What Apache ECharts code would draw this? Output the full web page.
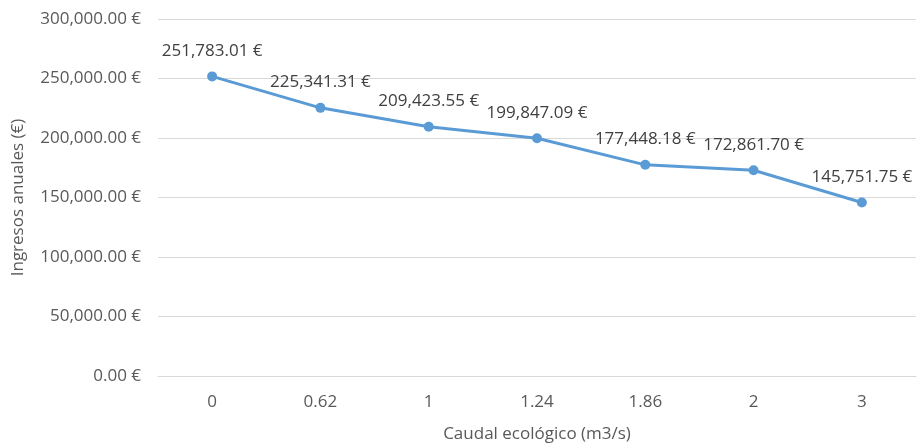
<!DOCTYPE html>
<html>
<head>
<meta charset="utf-8">
<script src="https://cdn.jsdelivr.net/npm/echarts@6/dist/echarts.min.js"></script>
<style>
html,body{margin:0;padding:0;background:#fff;}
#chart{width:917px;height:448px;}
</style>
</head>
<body>
<div id="chart"></div>
<script>
const categories = ['0', '0.62', '1', '1.24', '1.86', '2', '3'];
const ingresos = [251783.01, 225341.31, 209423.55, 199847.09, 177448.18, 172861.70, 145751.75];
const xAxisName = 'Caudal ecológico (m3/s)';
const yAxisName = 'Ingresos anuales (€)';

function fmtEuro(v) {
  const parts = Number(v).toFixed(2).split('.');
  parts[0] = parts[0].replace(/\B(?=(\d{3})+(?!\d))/g, ',');
  return parts.join('.') + ' €';
}

const FONT = 'Open Sans';
const FS = 17;
const chart = echarts.init(document.getElementById('chart'), null, {renderer: 'canvas'});
chart.setOption({
  backgroundColor: '#ffffff',
  animation: false,
  grid: {left: 158, right: 1, top: 19, bottom: 67, containLabel: false},
  xAxis: {
    type: 'category',
    data: categories,
    boundaryGap: true,
    name: xAxisName,
    nameLocation: 'middle',
    nameGap: 50,
    nameTextStyle: {color: '#595959', fontFamily: FONT, fontSize: FS},
    axisLine: {show: true, lineStyle: {color: '#D9D9D9', width: 1}},
    axisTick: {show: false},
    axisLabel: {color: '#595959', fontFamily: FONT, fontSize: FS, margin: 18},
    splitLine: {show: false}
  },
  yAxis: {
    type: 'value',
    min: 0,
    max: 300000,
    interval: 50000,
    name: yAxisName,
    nameLocation: 'middle',
    nameGap: 131,
    nameTextStyle: {color: '#595959', fontFamily: FONT, fontSize: FS},
    axisLine: {show: false},
    axisTick: {show: false},
    axisLabel: {color: '#595959', fontFamily: FONT, fontSize: FS, margin: 17, formatter: fmtEuro},
    splitLine: {show: true, lineStyle: {color: '#D9D9D9', width: 1}}
  },
  series: [{
    type: 'line',
    data: ingresos,
    symbol: 'circle',
    symbolSize: 10,
    lineStyle: {color: '#5B9BD5', width: 3},
    itemStyle: {color: '#5B9BD5'},
    label: {
      show: true,
      position: 'top',
      distance: 12,
      color: '#404040',
      fontFamily: FONT,
      fontSize: FS,
      formatter: p => fmtEuro(p.value)
    }
  }]
});
</script>
</body>
</html>
